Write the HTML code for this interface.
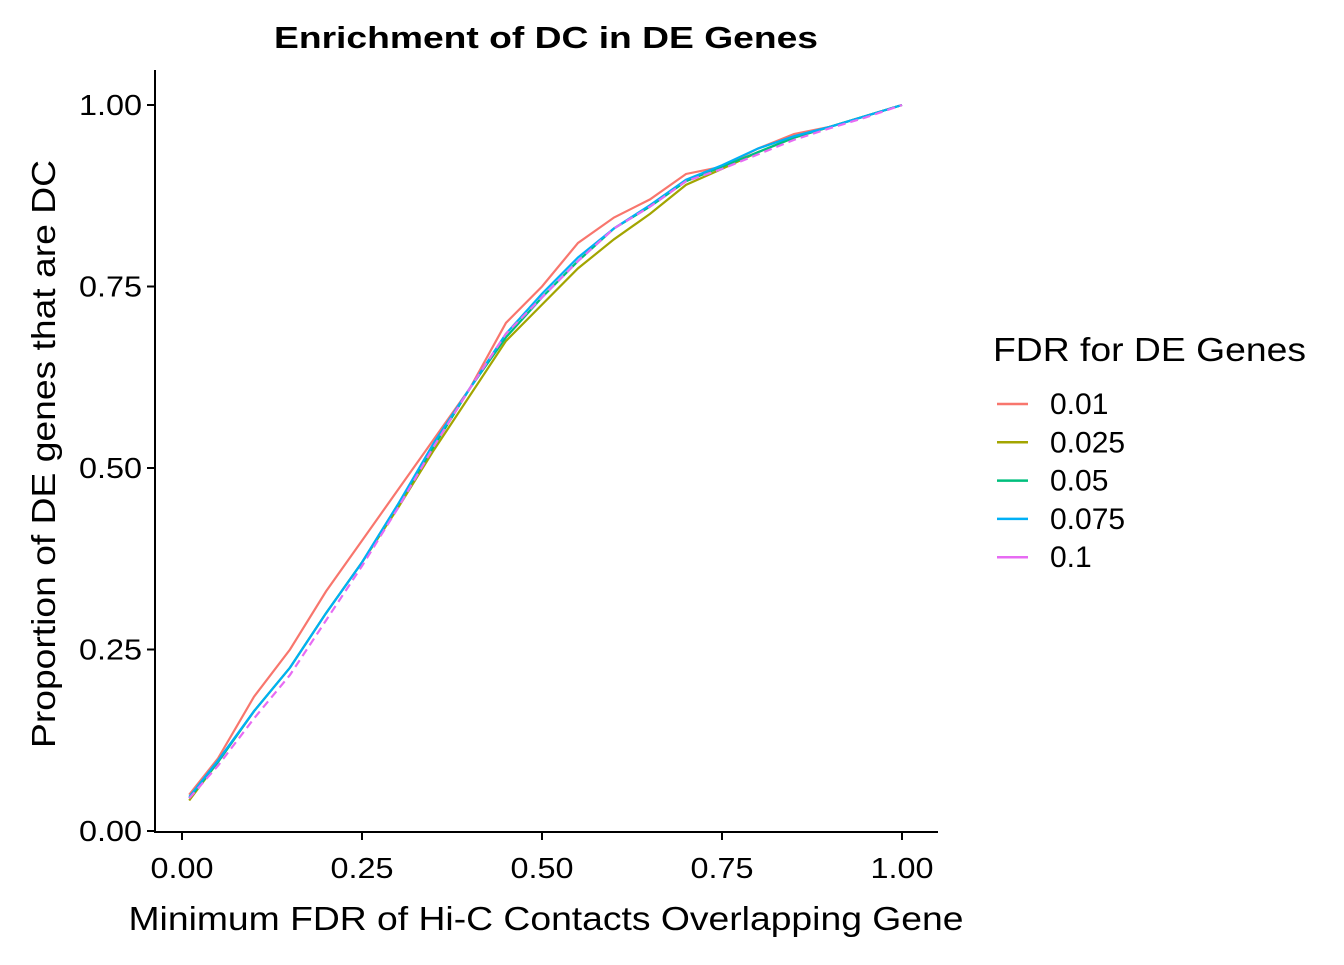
<!DOCTYPE html>
<html><head><meta charset="utf-8"><style>
body{margin:0;background:#fff;}
text{font-family:"Liberation Sans",Arial,sans-serif;}
</style></head><body>
<svg id="chart" width="1344" height="960" viewBox="0 0 1344 960">
<rect width="1344" height="960" fill="#fff"/>
<text x="546" y="48" text-anchor="middle" font-size="31" font-weight="bold" textLength="544" lengthAdjust="spacingAndGlyphs">Enrichment of DC in DE Genes</text>
<g id="plot"></g>
<line x1="155" y1="70" x2="155" y2="833" stroke="#000" stroke-width="2"/>
<line x1="154" y1="832" x2="938" y2="832" stroke="#000" stroke-width="2"/>
<g id="ticks"></g>
<text x="546" y="930" text-anchor="middle" font-size="33" textLength="835" lengthAdjust="spacingAndGlyphs">Minimum FDR of Hi-C Contacts Overlapping Gene</text>
<text transform="translate(55,454) rotate(-90)" text-anchor="middle" font-size="33" textLength="588" lengthAdjust="spacingAndGlyphs">Proportion of DE genes that are DC</text>
<text x="993" y="361" font-size="33" textLength="313" lengthAdjust="spacingAndGlyphs">FDR for DE Genes</text>
<g id="legend"></g>
</svg>
<script>
const xs = [0.01,0.05,0.1,0.15,0.2,0.25,0.3,0.35,0.4,0.45,0.5,0.55,0.6,0.65,0.7,0.75,0.8,0.85,0.9,0.95,1.0];
const s001 = [0.05,0.10,0.185,0.25,0.33,0.40,0.47,0.54,0.61,0.70,0.75,0.81,0.845,0.87,0.905,0.915,0.94,0.96,0.97,0.985,1.0];
const s0025 = [0.042,0.095,0.165,0.225,0.30,0.37,0.445,0.525,0.60,0.675,0.725,0.775,0.815,0.85,0.89,0.912,0.935,0.955,0.97,0.985,1.0];
const s005 = [0.045,0.095,0.165,0.225,0.30,0.37,0.45,0.53,0.61,0.68,0.735,0.785,0.83,0.86,0.895,0.915,0.935,0.955,0.97,0.985,1.0];
const s0075 = [0.047,0.097,0.165,0.225,0.30,0.37,0.45,0.535,0.61,0.685,0.74,0.79,0.83,0.862,0.897,0.917,0.94,0.957,0.97,0.985,1.0];
const s01 = [0.045,0.09,0.155,0.215,0.29,0.365,0.445,0.53,0.61,0.685,0.735,0.785,0.83,0.86,0.895,0.912,0.932,0.952,0.968,0.983,1.0];
const seriesNames = ["0.01","0.025","0.05","0.075","0.1"];
const colors = ["#F8766D","#A3A500","#00BF7D","#00B0F6","#E76BF3"];
const tickVals = [0,0.25,0.5,0.75,1.0];
const tickLabels = ["0.00","0.25","0.50","0.75","1.00"];
const NS="http://www.w3.org/2000/svg";
const X=v=>182+v*720, Y=v=>831-v*726;
const plot=document.getElementById('plot');
[s001,s0025,s005,s0075,s01].forEach((s,i)=>{
  const p=document.createElementNS(NS,'polyline');
  p.setAttribute('points',xs.map((x,j)=>X(x)+','+Y(s[j])).join(' '));
  p.setAttribute('fill','none');p.setAttribute('stroke',colors[i]);p.setAttribute('stroke-width','2.2');
  if(i==4)p.setAttribute('stroke-dasharray','8,5');
  
  
  plot.appendChild(p);
});
const tk=document.getElementById('ticks');
tickVals.forEach((v,i)=>{
  let l=document.createElementNS(NS,'line');
  l.setAttribute('x1',X(v));l.setAttribute('x2',X(v));l.setAttribute('y1',832);l.setAttribute('y2',840);l.setAttribute('stroke','#000');l.setAttribute('stroke-width','2');
  
  
  tk.appendChild(l);
  let t=document.createElementNS(NS,'text');
  t.setAttribute('x',X(v));t.setAttribute('y',878);t.setAttribute('text-anchor','middle');t.setAttribute('font-size','29');t.textContent=tickLabels[i];
  t.setAttribute('textLength','63');t.setAttribute('lengthAdjust','spacingAndGlyphs');
  
  
  tk.appendChild(t);
  l=document.createElementNS(NS,'line');
  l.setAttribute('x1',147);l.setAttribute('x2',155);l.setAttribute('y1',Y(v));l.setAttribute('y2',Y(v));l.setAttribute('stroke','#000');l.setAttribute('stroke-width','2');
  
  
  tk.appendChild(l);
  t=document.createElementNS(NS,'text');
  t.setAttribute('x',142);t.setAttribute('y',Y(v)+10);t.setAttribute('text-anchor','end');t.setAttribute('font-size','29');t.textContent=tickLabels[i];
  t.setAttribute('textLength','63');t.setAttribute('lengthAdjust','spacingAndGlyphs');
  
  
  tk.appendChild(t);
});
const lg=document.getElementById('legend');
seriesNames.forEach((n,i)=>{
  const y=404+i*38.3;
  const l=document.createElementNS(NS,'line');
  l.setAttribute('x1',997);l.setAttribute('x2',1028);l.setAttribute('y1',y);l.setAttribute('y2',y);l.setAttribute('stroke',colors[i]);l.setAttribute('stroke-width','2.5');
  
  
  lg.appendChild(l);
  const t=document.createElementNS(NS,'text');
  t.setAttribute('x',1050);t.setAttribute('y',y+10);t.setAttribute('font-size','30');t.textContent=n;
  
  
  lg.appendChild(t);
});
</script>
</body></html>
